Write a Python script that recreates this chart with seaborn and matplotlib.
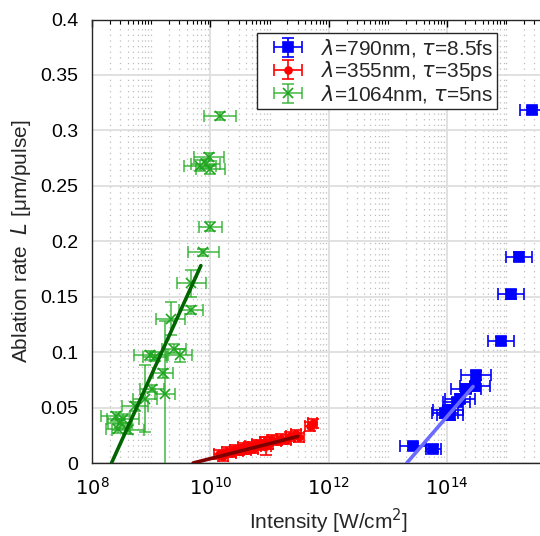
import numpy as np
import pandas as pd
import matplotlib
matplotlib.use("Agg")
import matplotlib.pyplot as plt
import seaborn as sns
from matplotlib.ticker import FixedLocator, LogLocator, FuncFormatter, NullFormatter
from matplotlib.legend_handler import HandlerErrorbar
from matplotlib.container import ErrorbarContainer

# ---------------- data (log10 intensity, ablation rate) ----------------
blue_logI = [15.43, 15.22, 15.08, 14.91, 14.49, 14.47, 14.32, 14.22, 14.16, 14.02, 13.96, 14.05, 13.43, 13.77]
blue_L    = [0.318, 0.186, 0.152, 0.110, 0.079, 0.069, 0.067, 0.058, 0.055, 0.048, 0.045, 0.043, 0.015, 0.013]
blue_dx   = [0.20, 0.22, 0.22, 0.22, 0.25, 0.25, 0.25, 0.25, 0.22, 0.25, 0.22, 0.22, 0.22, 0.12]
blue_dy   = [0.003, 0.004, 0.004, 0.004, 0.004, 0.004, 0.004, 0.004, 0.004, 0.004, 0.004, 0.004, 0.003, 0.003]

red_logI = [10.15, 10.22, 10.28, 10.35, 10.42, 10.48, 10.55, 10.60, 10.66, 10.72, 10.78, 10.85,
            10.92, 10.94, 10.98, 11.05, 11.12, 11.20, 11.28, 11.35, 11.45, 11.50, 11.68, 11.73]
red_L    = [0.008, 0.006, 0.010, 0.009, 0.012, 0.011, 0.014, 0.012, 0.015, 0.013, 0.017, 0.016,
            0.019, 0.015, 0.017, 0.021, 0.020, 0.022, 0.021, 0.024, 0.026, 0.023, 0.033, 0.036]
red_dx   = [0.08] * 24
red_dy   = [0.004] * 13 + [0.008] + [0.004] * 10

green_logI = [10.16, 9.98, 9.82, 9.92, 10.00, 10.00, 9.88, 9.68, 9.67, 9.33, 9.39, 9.49,
              8.98, 9.06, 9.20, 9.24, 9.01, 8.90, 8.73, 8.53, 8.47, 8.61, 8.44, 8.40]
green_L    = [0.313, 0.276, 0.268, 0.270, 0.265, 0.213, 0.190, 0.162, 0.138, 0.130, 0.103, 0.097,
              0.097, 0.096, 0.081, 0.062, 0.067, 0.058, 0.051, 0.040, 0.036, 0.030, 0.031, 0.042]
green_dx   = [0.27, 0.25, 0.27, 0.25, 0.25, 0.20, 0.26, 0.24, 0.20, 0.25, 0.20, 0.20,
              0.27, 0.20, 0.17, 0.17, 0.20, 0.20, 0.22, 0.27, 0.20, 0.27, 0.20, 0.25]
green_dy   = [0.004, 0.004, 0.005, 0.004, 0.004, 0.004, 0.003, 0.012, 0.004, 0.015, 0.004, 0.006,
              0.004, 0.004, 0.004, 0.066, 0.003, 0.030, 0.004, 0.004, 0.004, 0.004, 0.004, 0.004]

# fitted lines (end points)
fit_green_logI = [8.33, 9.84]
fit_green_L    = [0.0, 0.178]
fit_red_logI   = [9.71, 11.48]
fit_red_L      = [0.0, 0.024]
fit_blue_logI  = [13.32, 14.44]
fit_blue_L     = [0.0, 0.069]

labels = [r"$\lambda$=790nm, $\tau$=8.5fs", r"$\lambda$=355nm, $\tau$=35ps", r"$\lambda$=1064nm, $\tau$=5ns"]
xticks_log = [8, 10, 12, 14, 16]
xtick_labels = [r"$10^{8}$", r"$10^{10}$", r"$10^{12}$", r"$10^{14}$", ""]
yticks = [0, 0.05, 0.1, 0.15, 0.2, 0.25, 0.3, 0.35, 0.4]

# ---------------- style ----------------
sns.set_style("white")
plt.rcParams["font.family"] = ["Liberation Sans", "DejaVu Sans"]
plt.rcParams["mathtext.fontset"] = "dejavusans"

fig = plt.figure(figsize=(5.40, 5.36), dpi=100)
ax = fig.add_axes([92 / 540, 73 / 536, (565.4 - 92) / 540, (463 - 19.5) / 536])
ax.set_xscale("log")


def draw(logI, L, dx, dy, color, ecolor, marker, ms, label, cap, mfc=None):
    x = 10 ** np.array(logI)
    dx = np.array(dx)
    xerr = np.vstack([x - x * 10 ** (-dx), x * 10 ** dx - x])
    return ax.errorbar(x, L, xerr=xerr, yerr=dy, fmt=marker, color=color, ecolor=ecolor,
                       ms=ms, mew=1.2, capsize=cap, capthick=1.2, elinewidth=1.2,
                       label=label, zorder=3, mfc=mfc if mfc else color)


h1 = draw(blue_logI, blue_L, blue_dx, blue_dy, "#0000ff", "#0000ff", "s", 7, labels[0], 4)
h2 = draw(red_logI, red_L, red_dx, red_dy, "#ff0000", "#ff0000", "o", 5, labels[1], 4)
h3 = draw(green_logI, green_L, green_dx, green_dy, "#1fa51f", (0.15, 0.68, 0.15, 0.8), "x", 7, labels[2], 4)

for lx, ly, c in [(fit_green_logI, fit_green_L, "#006400"),
                  (fit_red_logI, fit_red_L, "#800000"),
                  (fit_blue_logI, fit_blue_L, "#6b6bff")]:
    df = pd.DataFrame({"I": 10 ** np.array(lx), "L": ly})
    sns.lineplot(data=df, x="I", y="L", ax=ax, color=c, lw=2.6, legend=False, zorder=4)

ax.set_xlim(1e8, 1e16)
ax.set_ylim(0, 0.4)
ax.xaxis.set_major_locator(FixedLocator([10.0 ** k for k in xticks_log]))
ax.set_xticklabels(xtick_labels)
ax.xaxis.set_minor_locator(LogLocator(base=10, subs=np.arange(1, 10), numticks=100))
ax.xaxis.set_minor_formatter(NullFormatter())
ax.yaxis.set_major_locator(FixedLocator(yticks))
ax.yaxis.set_major_formatter(FuncFormatter(lambda v, p: "%g" % v))

ax.grid(which="major", color="#dedede", lw=1.3, ls="-", zorder=0)
ax.xaxis.grid(which="minor", color="#bdbdbd", lw=0.9, ls=(0, (1, 3.5)))
ax.set_axisbelow(True)
ax.tick_params(which="both", direction="in", top=True, right=True, colors="black", labelsize=14)
ax.tick_params(which="major", length=5, width=1)
ax.tick_params(which="minor", length=3, width=0.8)
ax.tick_params(axis="x", pad=10)
ax.tick_params(axis="y", pad=10)
for s in ax.spines.values():
    s.set_color("#262626")
    s.set_linewidth(1.0)

ax.set_xlabel("Intensity [W/cm$^2$]", fontsize=15, labelpad=6)
ax.set_ylabel("Ablation rate  $L$ [μm/pulse]", fontsize=15, labelpad=5)

leg = ax.legend(handles=[h1, h2, h3], loc="upper left", bbox_to_anchor=(257 / 540, 1 - 33 / 536),
                bbox_transform=fig.transFigure, borderaxespad=0, fontsize=15, fancybox=False,
                framealpha=1, edgecolor="#262626", labelspacing=0.0, handlelength=2.6,
                borderpad=0.2, handletextpad=0.25,
                handler_map={ErrorbarContainer: HandlerErrorbar(xerr_size=0.68, yerr_size=0.45)})
leg.get_frame().set_linewidth(1.0)

fig.savefig("out.png", dpi=100)
